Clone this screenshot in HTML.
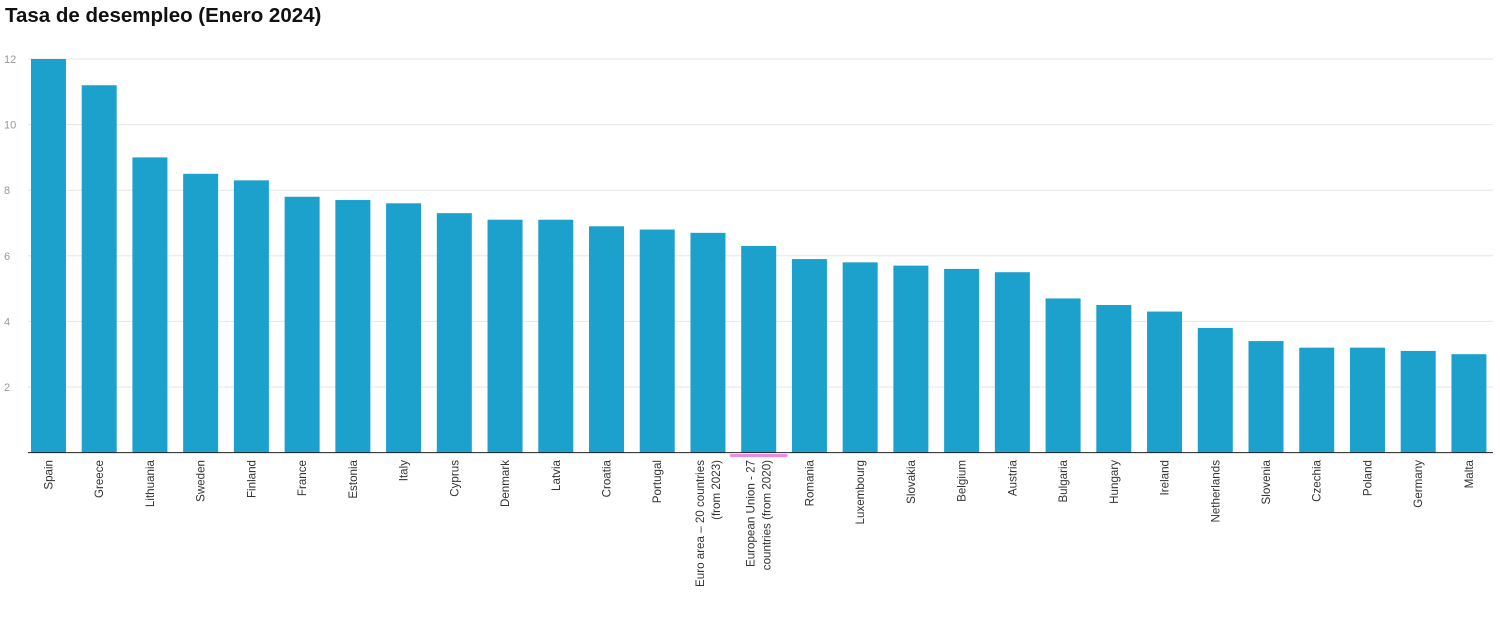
<!DOCTYPE html>
<html><head><meta charset="utf-8"><style>
body{margin:0;background:#fff;width:1500px;height:624px;overflow:hidden;font-family:"Liberation Sans",sans-serif}
h1{position:absolute;left:5px;top:4px;margin:0;font-size:20.5px;font-weight:bold;color:#111}
svg{position:absolute;left:0;top:0}
</style></head><body>
<h1>Tasa de desempleo (Enero 2024)</h1>
<svg id="c" width="1500" height="624"></svg>
<script>
const categories=["Spain","Greece","Lithuania","Sweden","Finland","France","Estonia","Italy","Cyprus","Denmark","Latvia","Croatia","Portugal","Euro area – 20 countries|(from 2023)","European Union - 27|countries (from 2020)","Romania","Luxembourg","Slovakia","Belgium","Austria","Bulgaria","Hungary","Ireland","Netherlands","Slovenia","Czechia","Poland","Germany","Malta"];
const values=[12,11.2,9.0,8.5,8.3,7.8,7.7,7.6,7.3,7.1,7.1,6.9,6.8,6.7,6.3,5.9,5.8,5.7,5.6,5.5,4.7,4.5,4.3,3.8,3.4,3.2,3.2,3.1,3.0];
const yTicks=[2,4,6,8,10,12];
const NS="http://www.w3.org/2000/svg",svg=document.getElementById('c');
const x0=23.1,x1=1494.3,y0=452.6,k=32.8;
const y=v=>y0-v*k;
const step=(x1-x0)/categories.length;
const xc=i=>x0+step*(i+0.5);
function mk(t,a){const e=document.createElementNS(NS,t);for(const n in a)e.setAttribute(n,a[n]);svg.appendChild(e);return e;}
yTicks.forEach(t=>{
 const g=mk('line',{x1:28,x2:1493,y1:y(t),y2:y(t),stroke:'#e6e6e6','stroke-width':1});
 
 
 const l=mk('text',{x:4,y:y(t)+4,'font-size':11,fill:'#999'});l.textContent=t;
 
 
});
values.forEach((v,i)=>{
 const b=mk('rect',{x:xc(i)-17.5,y:y(v),width:35,height:y0-y(v),fill:'#1ba1cc'});
 
 
 const lines=categories[i].split('|');
 lines.forEach((s,j)=>{
  const off=(j-(lines.length-1)/2)*16;
  const t=mk('text',{transform:`translate(${xc(i)+4+off},460) rotate(-90)`,'text-anchor':'end','font-size':11.6,fill:'#333'});
  t.textContent=s;
  
  
 });
});
const hl=mk('rect',{x:xc(14)-29,y:454,width:58,height:3,rx:1.5,fill:'#f08ae0'});


const ax=mk('line',{x1:28,x2:1493,y1:y0,y2:y0,stroke:'#222','stroke-width':1});


</script>
</body></html>
